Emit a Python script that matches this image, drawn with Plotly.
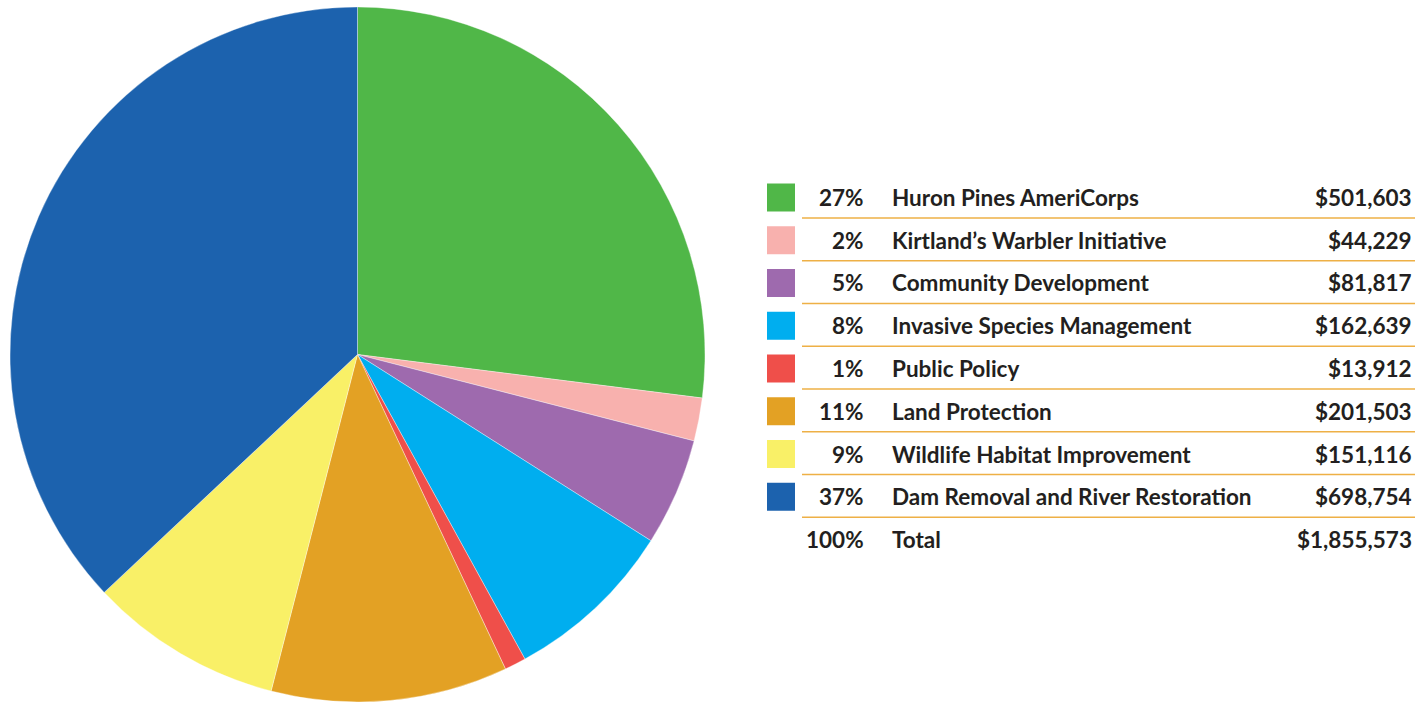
import plotly.graph_objects as go

categories = ["Huron Pines AmeriCorps", "Kirtland\u2019s Warbler Initiative", "Community Development",
              "Invasive Species Management", "Public Policy", "Land Protection",
              "Wildlife Habitat Improvement", "Dam Removal and River Restoration"]
amounts = [501603, 44229, 81817, 162639, 13912, 201503, 151116, 698754]
percents = [27, 2, 5, 8, 1, 11, 9, 37]
colors = ["#50b748", "#f8b1ae", "#9e6aae", "#00aeef", "#ef4f4a", "#e3a124", "#f9f067", "#1c62ae"]
total_label = "Total"
total_amount = 1855573

W, H = 1426, 703
fig = go.Figure()
fig.add_trace(go.Pie(
    values=percents, labels=categories, sort=False, direction="clockwise", rotation=0,
    marker=dict(colors=colors, line=dict(color="rgba(255,255,255,0.6)", width=0.6)),
    textinfo="none", showlegend=False,
    domain=dict(x=[10 / W, 705 / W], y=[1 / H, 696 / H]),
))

FONT = dict(family="Lato, 'Open Sans', sans-serif", size=22.5, color="#231f20", weight="bold")
row0, step = 197.5, 42.75
sq = 28
annotations = []
shapes = []

def py(v):
    return 1 - v / H

def row(i, pct, label, val, color=None):
    yc = row0 + i * step
    if color:
        shapes.append(dict(type="rect", xref="paper", yref="paper",
                           x0=767 / W, x1=795 / W, y0=py(yc - sq / 2), y1=py(yc + sq / 2),
                           fillcolor=color, line=dict(width=0)))
    for x, txt, anc in [(866, pct, "right"), (890, label, "left"), (1414, val, "right")]:
        annotations.append(dict(xref="paper", yref="paper", x=x / W, y=py(yc), text=txt,
                                showarrow=False, xanchor=anc, yanchor="middle", font=FONT))

for i, (c, a, p, col) in enumerate(zip(categories, amounts, percents, colors)):
    row(i, f"{p}%", c, f"${a:,}", col)
    yl = row0 + i * step + 20.5
    shapes.append(dict(type="line", xref="paper", yref="paper", x0=802 / W, x1=1415 / W,
                       y0=py(yl), y1=py(yl), line=dict(color="#eeb046", width=1.5)))
row(len(categories), f"{sum(percents)}%", total_label, f"${total_amount:,}")

fig.update_layout(width=W, height=H, margin=dict(l=0, r=0, t=0, b=0),
                  paper_bgcolor="white", plot_bgcolor="white",
                  annotations=annotations, shapes=shapes)
fig.write_html("out.html")
